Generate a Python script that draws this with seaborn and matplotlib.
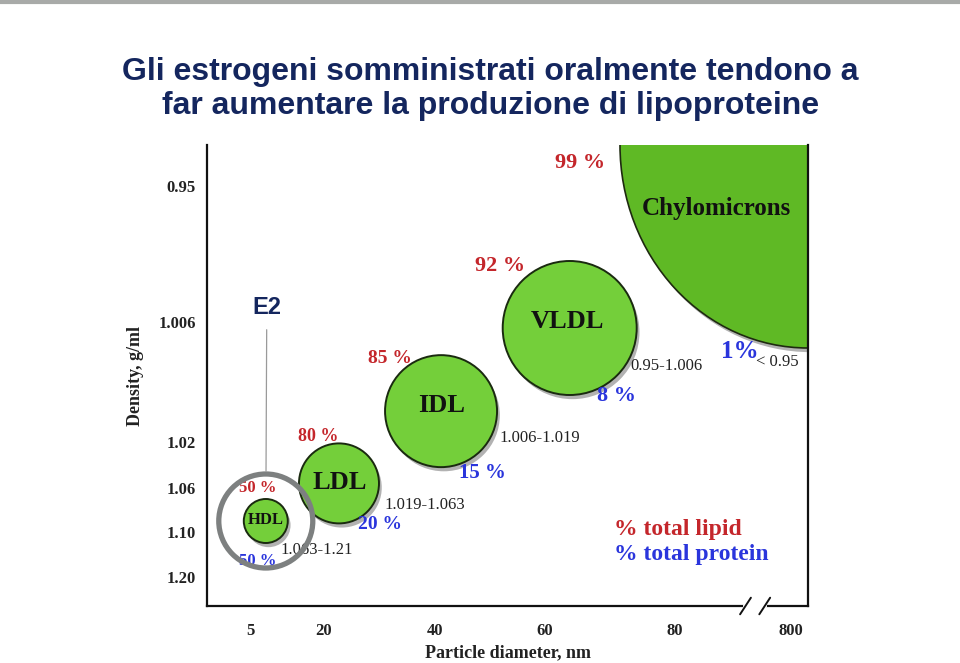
import numpy as np
import pandas as pd
import matplotlib
matplotlib.use("Agg")
import matplotlib.pyplot as plt
import matplotlib.patheffects as pe
from matplotlib.path import Path
from matplotlib.transforms import Affine2D
import seaborn as sns

# data
particles = ["HDL", "LDL", "IDL", "VLDL", "Chylomicrons"]
diameter_nm = [8.2, 22.7, 41.1, 63.8, 900]
density_gml = [1.090, 1.056, 1.0164, 1.0067, 0.93]
lipid_pct = ["50 %", "80 %", "85 %", "92 %", "99 %"]
protein_pct = ["50 %", "20 %", "15 %", "8 %", "1%"]
density_range = ["1.063-1.21", "1.019-1.063", "1.006-1.019", "0.95-1.006", "< 0.95"]

x_ticks = [5, 20, 40, 60, 80, 800]
y_ticks = [0.95, 1.006, 1.02, 1.06, 1.10, 1.20]
y_tick_labels = ["0.95", "1.006", "1.02", "1.06", "1.10", "1.20"]

title = "Gli estrogeni somministrati oralmente tendono a\nfar aumentare la produzione di lipoproteine"

df = pd.DataFrame({"particle": particles, "diameter": diameter_nm, "density": density_gml})

# schematic (non linear) axes -> piecewise linear scales
x_knots = [0, 5, 20, 40, 60, 80, 800, 900]
x_pos = [0, 43, 117, 228, 338, 468, 584, 601]
y_knots = [0.93, 0.95, 1.006, 1.02, 1.06, 1.10, 1.20, 1.25]
y_pos = [0, 41, 177, 297, 343, 387, 432, 461]

def fx(v): return np.interp(v, x_knots, x_pos)
def ix(p): return np.interp(p, x_pos, x_knots)
def fy(v): return np.interp(v, y_knots, y_pos)
def iy(p): return np.interp(p, y_pos, y_knots)

sns.set_theme(style="white")
plt.rcParams["font.family"] = ["Liberation Serif", "DejaVu Serif"]

NAVY = "#14265e"
RED = "#c4262b"
BLUE = "#2a35dc"
GREEN = "#74cf3a"
GREEN_DARK = "#5fb925"

fig = plt.figure(figsize=(9.6, 6.63), dpi=100)
ax = fig.add_axes([207 / 960, 57 / 663, 601 / 960, 461 / 663])
ax.set_xscale("function", functions=(fx, ix))
ax.set_yscale("function", functions=(fy, iy))
ax.set_xlim(0, 900)
ax.set_ylim(1.25, 0.93)

# bubble radius in pixels -> marker area in pt^2
radius_px = {"HDL": 22, "LDL": 40, "IDL": 56, "VLDL": 67, "Chylomicrons": 203}
areas = {k: (2 * r * 0.72) ** 2 for k, r in radius_px.items()}

small = df[df.particle != "Chylomicrons"]
big = df[df.particle == "Chylomicrons"]

shadow = [pe.SimplePatchShadow(offset=(2, -3), shadow_rgbFace="#555555", alpha=0.45), pe.Normal()]

# chylomicron region is a little wider than tall on the slide
ellipse = Path.unit_circle().transformed(Affine2D().scale(188 / 203, 1))

sns.scatterplot(data=big, x="diameter", y="density", size="particle", sizes=areas,
                marker=ellipse, color=GREEN_DARK, edgecolor="#1e2a10", linewidth=1.2,
                legend=False, ax=ax, zorder=2)
sns.scatterplot(data=small, x="diameter", y="density", size="particle", sizes=areas,
                color=GREEN, edgecolor="#1a2a10", linewidth=1.4, legend=False,
                ax=ax, zorder=3)
ax.collections[-1].set_path_effects(shadow)
ax.collections[-2].set_path_effects(shadow)

# text around each bubble (offsets in pixels from the bubble centre)
name_size = {"HDL": 12, "LDL": 19, "IDL": 19, "VLDL": 19, "Chylomicrons": 18}
name_off = {"HDL": (0, 1), "LDL": (1, 1), "IDL": (1, 6), "VLDL": (-2, 6), "Chylomicrons": (-92, -64)}
lip_off = {"HDL": (-8, 33), "LDL": (-21, 47), "IDL": (-51, 53), "VLDL": (-70, 62), "Chylomicrons": (-228, -18)}
lip_size = {"HDL": 12, "LDL": 13, "IDL": 14, "VLDL": 16, "Chylomicrons": 16}
pro_off = {"HDL": (-8, -40), "LDL": (41, -41), "IDL": (41, -62), "VLDL": (47, -68), "Chylomicrons": (-68, -206)}
pro_size = {"HDL": 12, "LDL": 14, "IDL": 15, "VLDL": 16, "Chylomicrons": 18}
rng_off = {"HDL": (15, -29), "LDL": (45, -22), "IDL": (58, -27), "VLDL": (61, -38), "Chylomicrons": (-52, -217)}

for i, row in df.iterrows():
    p = row.particle
    xy = (row.diameter, row.density)
    ax.annotate(p, xy, xytext=name_off[p], textcoords="offset pixels", ha="center",
                va="center", fontsize=name_size[p], fontweight="bold", color="#111111",
                zorder=5, annotation_clip=False)
    ax.annotate(lipid_pct[i], xy, xytext=lip_off[p], textcoords="offset pixels", ha="center",
                va="center", fontsize=lip_size[p], fontweight="bold", color=RED, zorder=5,
                annotation_clip=False)
    ax.annotate(protein_pct[i], xy, xytext=pro_off[p], textcoords="offset pixels", ha="center",
                va="center", fontsize=pro_size[p], fontweight="bold", color=BLUE, zorder=5,
                annotation_clip=False)
    ax.annotate(density_range[i], xy, xytext=rng_off[p], textcoords="offset pixels", ha="left",
                va="center", fontsize=12, color="#222222", zorder=5, annotation_clip=False)

# grey ring + E2 callout on HDL
hdl = df.iloc[0]
ax.scatter([hdl.diameter], [hdl.density], s=(2 * 47 * 0.72) ** 2, facecolor="none",
           edgecolor="#7d8080", linewidth=3.8, zorder=6, clip_on=False)
ax.annotate("E2", (hdl.diameter, hdl.density), xytext=(1, 213), textcoords="offset pixels",
            ha="center", va="center", fontsize=17, fontweight="bold", color=NAVY,
            family=["Liberation Sans", "DejaVu Sans"],
            arrowprops=dict(arrowstyle="-", color="#9a9a9a", lw=0.9, shrinkA=5, shrinkB=36))

# legend text
ax.text(0.678, 0.154, "% total lipid", transform=ax.transAxes, fontsize=17,
        fontweight="bold", color=RED, va="baseline")
ax.text(0.678, 0.1, "% total protein", transform=ax.transAxes, fontsize=17,
        fontweight="bold", color=BLUE, va="baseline")

# axes styling
ax.set_xticks(x_ticks)
ax.set_xticklabels([str(t) for t in x_ticks])
ax.set_yticks(y_ticks)
ax.set_yticklabels(y_tick_labels)
ax.tick_params(axis="x", direction="in", length=13, width=1.4, color="#111111",
               pad=12, labelsize=12)
ax.tick_params(axis="y", length=0, pad=8, labelsize=12)
for lab in ax.get_xticklabels() + ax.get_yticklabels():
    lab.set_fontweight("bold")
    lab.set_color("#222222")
ax.minorticks_off()
ax.set_xlabel("Particle diameter, nm", fontsize=13, fontweight="bold", labelpad=4, color="#222222")
ax.set_ylabel("Density, g/ml", fontsize=13, fontweight="bold", labelpad=10, color="#222222")
for side in ["left", "bottom", "right"]:
    ax.spines[side].set_color("#111111")
    ax.spines[side].set_linewidth(1.6)
ax.spines["top"].set_visible(False)

# axis break marks
ax.plot([0.896, 0.928], [0, 0], transform=ax.transAxes, color="white", lw=3,
        clip_on=False, zorder=7)
for bx in [0.896, 0.928]:
    ax.plot([bx - 0.009, bx + 0.009], [-0.018, 0.018], transform=ax.transAxes,
            color="#111111", lw=1.4, clip_on=False, zorder=8)

# slide title and top rule
fig.text(0.511, 0.866, title, ha="center", va="center", fontsize=23, fontweight="bold",
         color=NAVY, family=["Liberation Sans", "DejaVu Sans"], linespacing=1.18)
fig.add_artist(plt.Line2D([0, 1], [0.997, 0.997], color="#a8aaa8", lw=3))

fig.savefig("out.png", dpi=100)
